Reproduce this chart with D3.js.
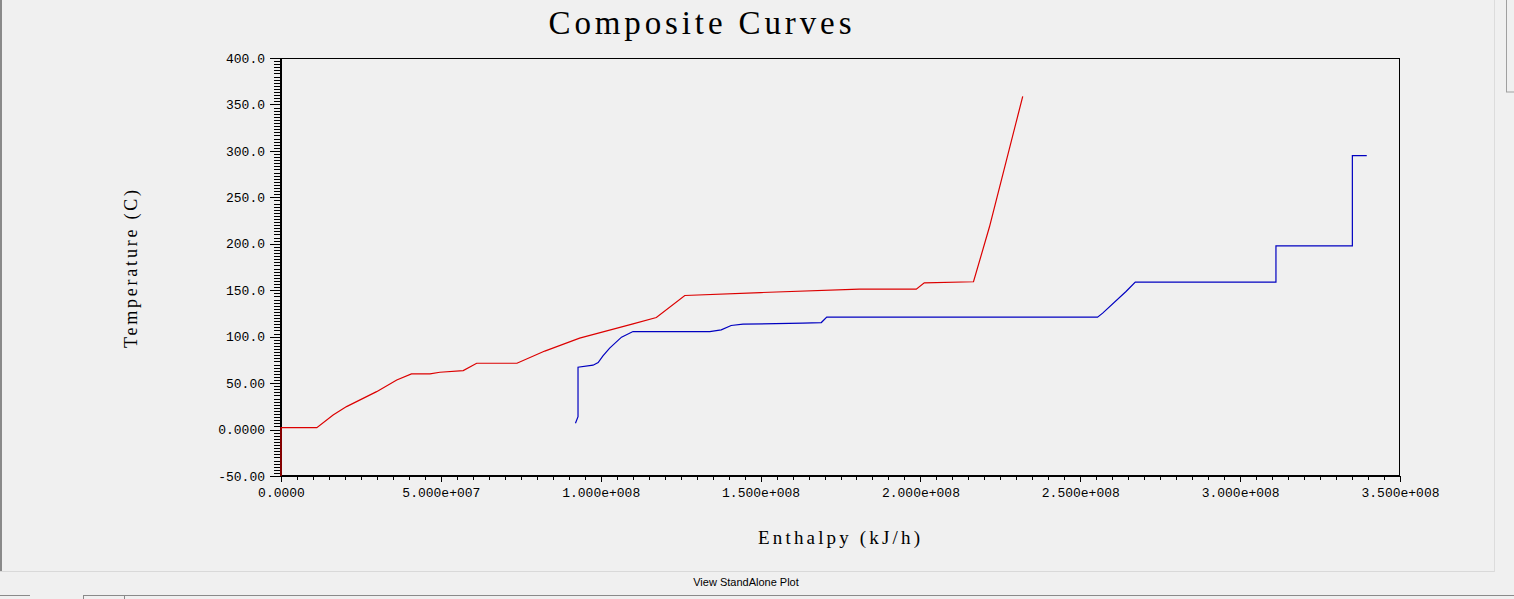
<!DOCTYPE html>
<html>
<head>
<meta charset="utf-8">
<script src="https://cdn.jsdelivr.net/npm/d3@7"></script>
<style>
  html, body { margin: 0; padding: 0; background: #f0f0f0; overflow: hidden; }
  svg { display: block; }
  .tick line { shape-rendering: crispEdges; }
</style>
</head>
<body>
<svg id="chart"></svg>
<script>
// Data (enthalpy in kJ/h, temperature in C)
const hotEnthalpy = [0, 0, 11.2e6, 16.3e6, 20.5e6, 29.9e6, 36.2e6, 40.8e6, 46.6e6, 49.7e6, 57.0e6, 61.2e6, 73.8e6, 82.5e6, 93.4e6, 110.1e6, 117.4e6, 126.3e6, 150e6, 180.9e6, 198.7e6, 201.2e6, 216.6e6, 221.6e6, 232.0e6];
const hotTemp     = [-50, 2.0, 2.0, 15.7, 24.7, 40.8, 53.4, 59.9, 59.9, 61.7, 63.5, 71.4, 71.4, 84.5, 98.4, 113.8, 120.6, 144.3, 147.5, 151.2, 151.2, 158.0, 159.1, 218.3, 358.7];

const coldEnthalpy = [92.1e6, 92.9e6, 92.9e6, 97.6e6, 99.2e6, 100.7e6, 102.8e6, 106.5e6, 110.1e6, 134.1e6, 137.7e6, 140.8e6, 144.5e6, 163.2e6, 169.0e6, 170.7e6, 255.4e6, 257.0e6, 264.3e6, 267.2e6, 311.2e6, 311.2e6, 335.1e6, 335.1e6, 339.6e6];
const coldTemp     = [6.8, 13.9, 67.1, 69.3, 72.1, 79.3, 87.6, 99.5, 105.5, 105.5, 107.3, 112.0, 113.5, 114.5, 115.2, 121.0, 121.0, 125.3, 148.6, 158.7, 158.7, 197.8, 197.8, 294.8, 294.8];

const yTickValues = [-50, 0, 50, 100, 150, 200, 250, 300, 350, 400];
const yTickLabels = ["-50.00", "0.0000", "50.00", "100.0", "150.0", "200.0", "250.0", "300.0", "350.0", "400.0"];
const xTickValues = [0, 5e7, 1e8, 1.5e8, 2e8, 2.5e8, 3e8, 3.5e8];
const xTickLabels = ["0.0000", "5.000e+007", "1.000e+008", "1.500e+008", "2.000e+008", "2.500e+008", "3.000e+008", "3.500e+008"];

const width = 1514;
const height = 599;
const margin = { top: 58, right: 114, bottom: 123, left: 281 };

const svg = d3.select("#chart")
  .attr("width", width)
  .attr("height", height);

// Window chrome around the plot
svg.append("rect").attr("x", 0).attr("y", 0).attr("width", 2).attr("height", 572).attr("fill", "#8a8a8a");
svg.append("line").attr("x1", 0).attr("x2", 1494).attr("y1", 571.5).attr("y2", 571.5).attr("stroke", "#d9d9d9");
svg.append("line").attr("x1", 1494.5).attr("x2", 1494.5).attr("y1", 0).attr("y2", 572).attr("stroke", "#dcdcdc");
svg.append("rect").attr("x", 1506.5).attr("y", -1).attr("width", 12).attr("height", 93)
  .attr("fill", "#f0f0f0").attr("stroke", "#a0a0a0");
svg.append("line").attr("x1", 0).attr("x2", 30).attr("y1", 595.5).attr("y2", 595.5).attr("stroke", "#8a8a8a");
svg.append("rect").attr("x", 83.5).attr("y", 595.5).attr("width", 41).attr("height", 10)
  .attr("fill", "#f0f0f0").attr("stroke", "#8a8a8a");
svg.append("rect").attr("x", 124.5).attr("y", 595.5).attr("width", 1400).attr("height", 10)
  .attr("fill", "#f0f0f0").attr("stroke", "#8a8a8a");
svg.append("text")
  .attr("x", 746).attr("y", 586)
  .attr("text-anchor", "middle")
  .attr("font-family", "Liberation Sans, Arial, sans-serif")
  .attr("font-size", 11)
  .attr("fill", "#000")
  .text("View StandAlone Plot");

// Scales
const xScale = d3.scaleLinear()
  .domain([0, 3.5e8])
  .range([margin.left, width - margin.right]);

const yScale = d3.scaleLinear()
  .domain([-50, 400])
  .range([height - margin.bottom, margin.top]);

const monoFont = "Liberation Mono, DejaVu Sans Mono, monospace";
const serifFont = "Liberation Serif, DejaVu Serif, serif";

// Title
svg.append("text")
  .attr("x", 700).attr("y", 34)
  .attr("text-anchor", "middle")
  .attr("font-family", serifFont)
  .attr("font-size", 33)
  .attr("textLength", 303)
  .attr("lengthAdjust", "spacing")
  .text("Composite Curves");

// Minor ticks
const xMinor = d3.range(0, 3.5e8 + 1, 5e6).filter(v => v % 5e7 !== 0);
const yMinor = d3.range(-50, 400.01, 50 / 15).filter(v => Math.abs(Math.round(v / 50) * 50 - v) > 0.01);

svg.append("g")
  .attr("transform", `translate(0,${yScale(-50)})`)
  .call(d3.axisBottom(xScale).tickValues(xMinor).tickSize(4).tickFormat(""))
  .call(g => g.select(".domain").remove());

svg.append("g")
  .attr("transform", `translate(${xScale(0)},0)`)
  .call(d3.axisLeft(yScale).tickValues(yMinor).tickSize(7).tickFormat(""))
  .call(g => g.select(".domain").remove());

// Major ticks with labels
svg.append("g")
  .attr("transform", `translate(0,${yScale(-50)})`)
  .call(d3.axisBottom(xScale).tickValues(xTickValues).tickSize(6).tickPadding(6)
    .tickFormat((d, i) => xTickLabels[i]))
  .call(g => g.select(".domain").remove())
  .call(g => g.selectAll("text").attr("font-family", monoFont).attr("font-size", 13).attr("fill", "#000"));

svg.append("g")
  .attr("transform", `translate(${xScale(0)},0)`)
  .call(d3.axisLeft(yScale).tickValues(yTickValues).tickSize(11).tickPadding(5)
    .tickFormat((d, i) => yTickLabels[i]))
  .call(g => g.select(".domain").remove())
  .call(g => g.selectAll("text").attr("font-family", monoFont).attr("font-size", 13).attr("fill", "#000"));

// Plot frame: thin top/right, heavier left/bottom
svg.append("rect")
  .attr("x", xScale(0)).attr("y", yScale(400) + 0.5)
  .attr("width", xScale(3.5e8) - xScale(0) - 0.5)
  .attr("height", yScale(-50) - yScale(400))
  .attr("fill", "none")
  .attr("stroke", "#000")
  .attr("stroke-width", 1);
svg.append("line")
  .attr("x1", xScale(0)).attr("x2", xScale(0))
  .attr("y1", yScale(400)).attr("y2", yScale(-50) + 1)
  .attr("stroke", "#000").attr("stroke-width", 2);
svg.append("line")
  .attr("x1", xScale(0)).attr("x2", xScale(3.5e8))
  .attr("y1", yScale(-50)).attr("y2", yScale(-50))
  .attr("stroke", "#000").attr("stroke-width", 2);

// Axis titles
svg.append("text")
  .attr("x", 839).attr("y", 544)
  .attr("text-anchor", "middle")
  .attr("font-family", serifFont)
  .attr("font-size", 19)
  .attr("textLength", 162)
  .attr("lengthAdjust", "spacing")
  .text("Enthalpy (kJ/h)");

svg.append("text")
  .attr("transform", "translate(137,269) rotate(-90)")
  .attr("text-anchor", "middle")
  .attr("font-family", serifFont)
  .attr("font-size", 18)
  .attr("textLength", 158)
  .attr("lengthAdjust", "spacing")
  .text("Temperature (C)");

// Composite curves
const line = d3.line()
  .x(d => xScale(d[0]))
  .y(d => yScale(d[1]));

svg.append("path")
  .datum(d3.zip(hotEnthalpy, hotTemp))
  .attr("d", line)
  .attr("fill", "none")
  .attr("stroke", "#dc0000")
  .attr("stroke-width", 1.2);

svg.append("path")
  .datum(d3.zip(coldEnthalpy, coldTemp))
  .attr("d", line)
  .attr("fill", "none")
  .attr("stroke", "#0000c0")
  .attr("stroke-width", 1.2);
</script>
</body>
</html>
